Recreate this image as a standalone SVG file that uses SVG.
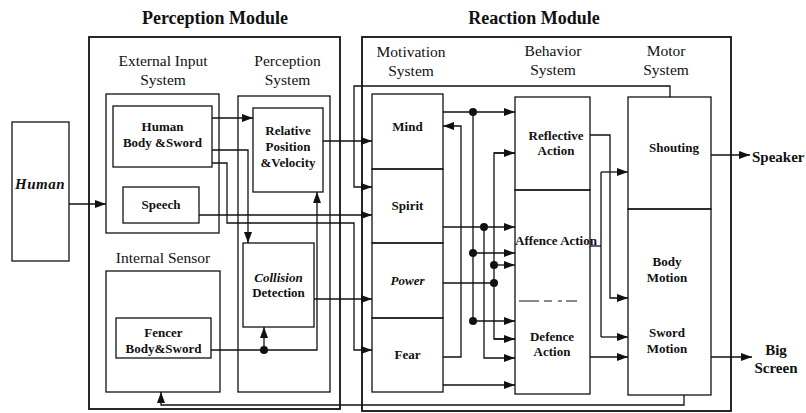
<svg xmlns="http://www.w3.org/2000/svg" width="806" height="413" viewBox="0 0 806 413">
<style>
  .box{fill:none;stroke:#111;stroke-width:1.3}
  .mod{fill:none;stroke:#111;stroke-width:1.8}
  .ln{fill:none;stroke:#111;stroke-width:1.3}
  .ar{marker-end:url(#ah)}
  .dot{fill:#111}
  text{font-family:"Liberation Serif","Times New Roman",serif;fill:#111;text-anchor:middle}
  .t{font-size:18px;font-weight:bold}
  .lbl{font-size:15.5px}
  .n{font-size:13px;font-weight:bold}
  .ni{font-size:13px;font-weight:bold;font-style:italic}
  .out{font-size:15px;font-weight:bold}
</style>
<defs>
  <marker id="ah" markerUnits="userSpaceOnUse" markerWidth="11" markerHeight="8" refX="11" refY="4" orient="auto">
    <path d="M0,0 L11,4 L0,8 z" fill="#111"/>
  </marker>
</defs>
<rect width="806" height="413" fill="#fff"/>

<text class="t" x="215" y="24">Perception Module</text>
<text class="t" x="534" y="24">Reaction Module</text>

<g id="human"><rect class="box" x="12" y="122" width="57" height="139"/><text x="40" y="189" style="font-size:15px;font-weight:bold;font-style:italic;letter-spacing:0.5px">Human</text></g>

<g id="perception-module"><rect class="mod" x="89" y="37" width="251" height="372"/></g>
<g id="external-input-system"><rect class="box" x="106" y="94" width="113" height="139"/><text class="lbl" x="163" y="66">External Input</text><text class="lbl" x="163" y="85">System</text></g>
<g id="human-body-sword"><rect class="box" x="113" y="106" width="99" height="61"/><text class="n" x="162.5" y="131">Human</text><text class="n" x="162.5" y="147">Body &amp;Sword</text></g>
<g id="speech"><rect class="box" x="123" y="187" width="76" height="36"/><text class="n" x="161" y="209">Speech</text></g>
<g id="internal-sensor"><rect class="box" x="106" y="271" width="114" height="121"/><text class="lbl" x="163" y="263">Internal Sensor</text></g>
<g id="fencer-body-sword"><rect class="box" x="116" y="318" width="95" height="40"/><text class="n" x="163.5" y="337">Fencer</text><text class="n" x="163.5" y="353">Body&amp;Sword</text></g>
<g id="perception-system"><rect class="box" x="238" y="96" width="92" height="296"/><text class="lbl" x="287.5" y="66">Perception</text><text class="lbl" x="287.5" y="85">System</text></g>
<g id="relative-position"><rect class="box" x="253" y="108" width="70" height="84"/><text class="n" x="288" y="135">Relative</text><text class="n" x="288" y="151">Position</text><text class="n" x="288" y="167">&amp;Velocity</text></g>
<g id="collision-detection"><rect class="box" x="243" y="243" width="71" height="84"/><text class="ni" x="278.5" y="282">Collision</text><text class="n" x="278.5" y="297">Detection</text></g>

<g id="reaction-module"><rect class="mod" x="362" y="37" width="369" height="374"/></g>
<g id="motivation-system"><text class="lbl" x="411" y="57">Motivation</text><text class="lbl" x="411" y="76">System</text></g>
<g id="mind"><rect class="box" x="372" y="94" width="71" height="75"/><text class="n" x="407.5" y="131">Mind</text></g>
<g id="spirit"><rect class="box" x="372" y="169" width="71" height="74"/><text class="n" x="407.5" y="210">Spirit</text></g>
<g id="power"><rect class="box" x="372" y="243" width="71" height="75"/><text class="ni" x="407.5" y="285">Power</text></g>
<g id="fear"><rect class="box" x="372" y="318" width="71" height="74"/><text class="n" x="407.5" y="359">Fear</text></g>
<g id="behavior-system"><text class="lbl" x="553" y="56">Behavior</text><text class="lbl" x="553" y="75">System</text></g>
<g id="reflective-action"><rect class="box" x="515" y="97" width="75" height="93"/><text class="n" x="556" y="140">Reflective</text><text class="n" x="556" y="155">Action</text></g>
<g id="affence-defence-action"><rect class="box" x="515" y="190" width="75" height="204"/><text class="n" x="556" y="245">Affence Action</text><line x1="519" y1="301" x2="577" y2="301" stroke="#111" stroke-width="1" stroke-dasharray="20,5,8,6,4,4"/><text class="n" x="552" y="341">Defence</text><text class="n" x="552" y="356">Action</text></g>
<g id="motor-system"><text class="lbl" x="666" y="56">Motor</text><text class="lbl" x="666" y="75">System</text></g>
<g id="shouting"><rect class="box" x="628" y="97" width="83" height="112"/><text class="n" x="674" y="152">Shouting</text></g>
<g id="body-sword-motion"><rect class="box" x="628" y="209" width="83" height="186"/><text class="n" x="667" y="266">Body</text><text class="n" x="667" y="282">Motion</text><text class="n" x="667" y="337">Sword</text><text class="n" x="667" y="353">Motion</text></g>
<g id="speaker"><text class="out" x="752" y="162" style="text-anchor:start">Speaker</text></g>
<g id="big-screen"><text class="out" x="776" y="355">Big</text><text class="out" x="776" y="373">Screen</text></g>

<g id="connectors">
  <path class="ln ar" d="M69,204 H106"/>
  <path class="ln ar" d="M212,118 H253"/>
  <path class="ln ar" d="M212,150 H248 V243"/>
  <path class="ln ar" d="M212,163 H227 V223 H354 V350 H372"/>
  <path class="ln ar" d="M199,215 H372"/>
  <path class="ln ar" d="M323,141 H372"/>
  <path class="ln ar" d="M314,299 H372"/>
  <path class="ln ar" d="M211,350 H317 V192"/>
  <path class="ln ar" d="M264,350 V327"/>
  <circle class="dot" cx="264" cy="350" r="4"/>
  <path class="ln ar" d="M670,97 V86 H354 V187 H372"/>
  <path class="ln ar" d="M684,395 V405 H161 V392"/>

  <path class="ln ar" d="M443,112 H515"/>
  <path class="ln" d="M473,112 V321"/>
  <path class="ln ar" d="M473,253 H515"/>
  <path class="ln ar" d="M473,321 H515"/>
  <circle class="dot" cx="473" cy="112" r="4"/>
  <circle class="dot" cx="473" cy="253" r="4"/>
  <circle class="dot" cx="473" cy="321" r="4"/>
  <path class="ln ar" d="M443,227 H515"/>
  <path class="ln ar" d="M484,227 V358 H515"/>
  <circle class="dot" cx="484" cy="227" r="4"/>
  <path class="ln" d="M443,283 H494"/>
  <path class="ln ar" d="M515,153 H494 V339 H515" style="marker-end:none"/>
  <path class="ln ar" d="M494,153 H515"/>
  <path class="ln ar" d="M494,265 H515"/>
  <path class="ln ar" d="M494,339 H515"/>
  <circle class="dot" cx="494" cy="265" r="4"/>
  <circle class="dot" cx="494" cy="283" r="4"/>
  <path class="ln ar" d="M443,357 H461 V126 H443"/>
  <path class="ln ar" d="M443,385 H515"/>

  <path class="ln ar" d="M590,135 H610 V298 H628"/>
  <path class="ln" d="M590,246 H601"/>
  <path class="ln" d="M601,172 V337"/>
  <path class="ln ar" d="M601,172 H628"/>
  <path class="ln ar" d="M601,337 H628"/>
  <path class="ln ar" d="M590,357 H628"/>
  <path class="ln ar" d="M711,155 H750"/>
  <path class="ln ar" d="M711,357 H752"/>
</g>
</svg>
